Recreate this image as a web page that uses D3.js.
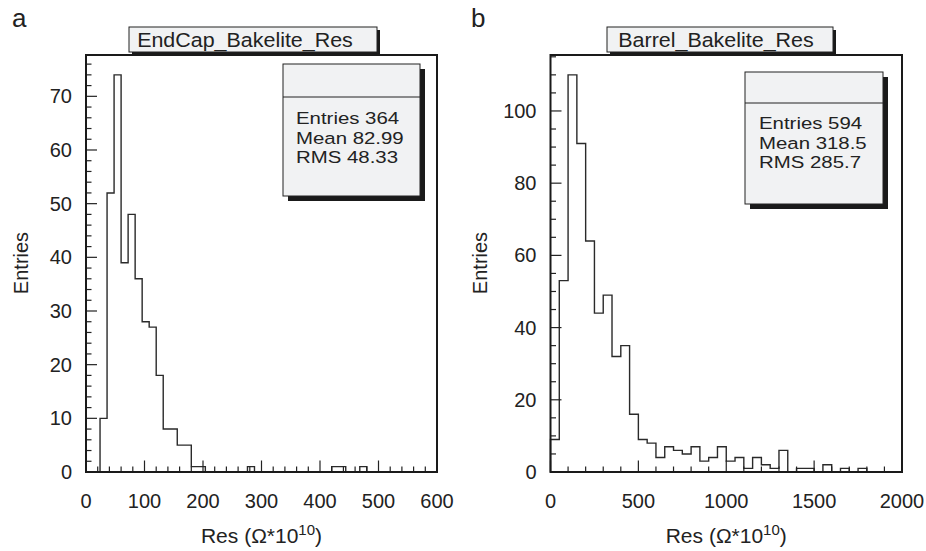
<!DOCTYPE html>
<html><head><meta charset="utf-8">
<script src="https://cdn.jsdelivr.net/npm/d3@7"></script>
<style>
html,body{margin:0;padding:0;background:#fff;}
svg text{font-family:"Liberation Sans",Arial,Helvetica,sans-serif;fill:#222;}
</style></head>
<body>
<svg id="c" width="926" height="551"></svg>
<script>
// ---------------- DATA ----------------
// Panel a: EndCap, 50 bins of width 12 from 0 to 600
const binWidthA = 12;
const countsA = [0,0,10,52,74,39,48,36,28,27,18,8,8,5,5,1,1,0,0,0,0,0,0,1,0,0,
                 0,0,0,0,0,0,0,0,0,1,1,0,0,1,0,0,0,0,0,0,0,0,0,0];
// Panel b: Barrel, 40 bins of width 50 from 0 to 2000
const binWidthB = 50;
const countsB = [9,53,110,91,64,44,49,32,35,16,9,8,4,7,6,5,7,3,4,7,3,4,1,4,2,1,6,0,1,1,0,2,0,1,0,1,0,0,0,0];

const xTicksA = [0,100,200,300,400,500,600];
const yTicksA = [0,10,20,30,40,50,60,70];
const xTicksB = [0,500,1000,1500,2000];
const yTicksB = [0,20,40,60,80,100];

const titlesPanel = ["EndCap_Bakelite_Res","Barrel_Bakelite_Res"];
const panelLetters = ["a","b"];
const statsA = ["Entries 364","Mean 82.99","RMS 48.33"];
const statsB = ["Entries 594","Mean 318.5","RMS 285.7"];

// ---------------- LAYOUT ----------------
const svg = d3.select("#c");
const panels = [
  {letter:panelLetters[0], title:titlesPanel[0], counts:countsA, bw:binWidthA,
   xDom:[0,600], yMax:77.7, xR:[86,437], yR:[472,55],
   xMaj:xTicksA, xMinStep:20, yMaj:yTicksA, yMinStep:2,
   stats:statsA, statBox:{x:283,y:64,w:137,h:132,div:33,tx:13,ty:[60,80,99]},
   titleBox:{x:129,y:27,w:248,h:25,cx:245}, letterPos:[12,27], yTitleX:28},
  {letter:panelLetters[1], title:titlesPanel[1], counts:countsB, bw:binWidthB,
   xDom:[0,2000], yMax:115.5, xR:[550.5,902], yR:[472,55],
   xMaj:xTicksB, xMinStep:100, yMaj:yTicksB, yMinStep:5,
   stats:statsB, statBox:{x:745,y:72,w:138,h:132,div:31,tx:14,ty:[57,77,96]},
   titleBox:{x:607,y:27,w:226,h:25,cx:716}, letterPos:[471,27], yTitleX:487}
];

panels.forEach(p => {
  const g = svg.append("g");
  const x = d3.scaleLinear().domain(p.xDom).range(p.xR);
  const y = d3.scaleLinear().domain([0,p.yMax]).range(p.yR);

  // histogram outline
  const pts = [[0,0]];
  p.counts.forEach((v,i)=>{ pts.push([i*p.bw, v]); pts.push([(i+1)*p.bw, v]); });
  pts.push([p.counts.length*p.bw, 0]);
  g.append("path")
    .attr("d", d3.line().x(d=>x(d[0])).y(d=>y(d[1]))(pts))
    .attr("fill","none").attr("stroke","#2a2a2a").attr("stroke-width",1.4);

  // ticks (inside)
  const xMinor = d3.range(p.xDom[0], p.xDom[1]+0.001, p.xMinStep);
  g.selectAll(".xt").data(xMinor).join("line")
    .attr("x1",d=>x(d)).attr("x2",d=>x(d))
    .attr("y1",y(0)).attr("y2",d=> y(0) - (p.xMaj.includes(d)?11.5:5.5))
    .attr("stroke","#222").attr("stroke-width",1.2);
  const yMinor = d3.range(0, p.yMax, p.yMinStep);
  g.selectAll(".yt").data(yMinor).join("line")
    .attr("y1",d=>y(d)).attr("y2",d=>y(d))
    .attr("x1",x(p.xDom[0])).attr("x2",d=> x(p.xDom[0]) + (p.yMaj.includes(d)?11:5.5))
    .attr("stroke","#222").attr("stroke-width",1.2);

  // frame
  g.append("rect").attr("x",p.xR[0]).attr("y",p.yR[1])
    .attr("width",p.xR[1]-p.xR[0]).attr("height",p.yR[0]-p.yR[1])
    .attr("fill","none").attr("stroke","#1a1a1a").attr("stroke-width",2);

  // tick labels
  g.selectAll(".xl").data(p.xMaj).join("text")
    .attr("x",d=>x(d)).attr("y",508).attr("text-anchor","middle")
    .attr("font-size",20).text(d=>d);
  g.selectAll(".yl").data(p.yMaj).join("text")
    .attr("x",p.xR[0]-14).attr("y",d=>y(d)+7).attr("text-anchor","end")
    .attr("font-size",20).text(d=>d);

  // axis titles
  const xt = g.append("text").attr("x",(p.xR[0]+p.xR[1])/2).attr("y",543)
    .attr("text-anchor","middle").attr("font-size",21);
  xt.append("tspan").text("Res (\u03A9*10");
  xt.append("tspan").attr("dy",-8).attr("font-size",15).text("10");
  xt.append("tspan").attr("dy",8).text(")");
  g.append("text").attr("transform",`translate(${p.yTitleX},263) rotate(-90)`)
    .attr("text-anchor","middle").attr("font-size",20).text("Entries");

  // panel letter
  g.append("text").attr("x",p.letterPos[0]).attr("y",p.letterPos[1])
    .attr("font-size",26).text(p.letter);

  // title box
  const tb = p.titleBox;
  g.append("rect").attr("x",tb.x+3).attr("y",tb.y+3).attr("width",tb.w).attr("height",tb.h).attr("fill","#1a1a1a");
  g.append("rect").attr("x",tb.x).attr("y",tb.y).attr("width",tb.w).attr("height",tb.h)
    .attr("fill","#f1f2f3").attr("stroke","#222").attr("stroke-width",1);
  g.append("text").attr("transform",`translate(${tb.cx},${tb.y+19.5}) scale(1.1,1)`)
    .attr("text-anchor","middle").attr("font-size",19.5).text(p.title);

  // stats box
  const sb = p.statBox;
  g.append("rect").attr("x",sb.x+5).attr("y",sb.y+5).attr("width",sb.w).attr("height",sb.h).attr("fill","#1a1a1a");
  g.append("rect").attr("x",sb.x).attr("y",sb.y).attr("width",sb.w).attr("height",sb.h)
    .attr("fill","#f1f2f3").attr("stroke","#222").attr("stroke-width",1);
  g.append("line").attr("x1",sb.x).attr("x2",sb.x+sb.w).attr("y1",sb.y+sb.div).attr("y2",sb.y+sb.div)
    .attr("stroke","#222").attr("stroke-width",1);
  g.selectAll(".st").data(p.stats).join("text")
    .attr("transform",(d,i)=>`translate(${sb.x+sb.tx},${sb.y+sb.ty[i]}) scale(1.2,1)`)
    .attr("font-size",17).text(d=>d);
});
</script>
</body></html>
